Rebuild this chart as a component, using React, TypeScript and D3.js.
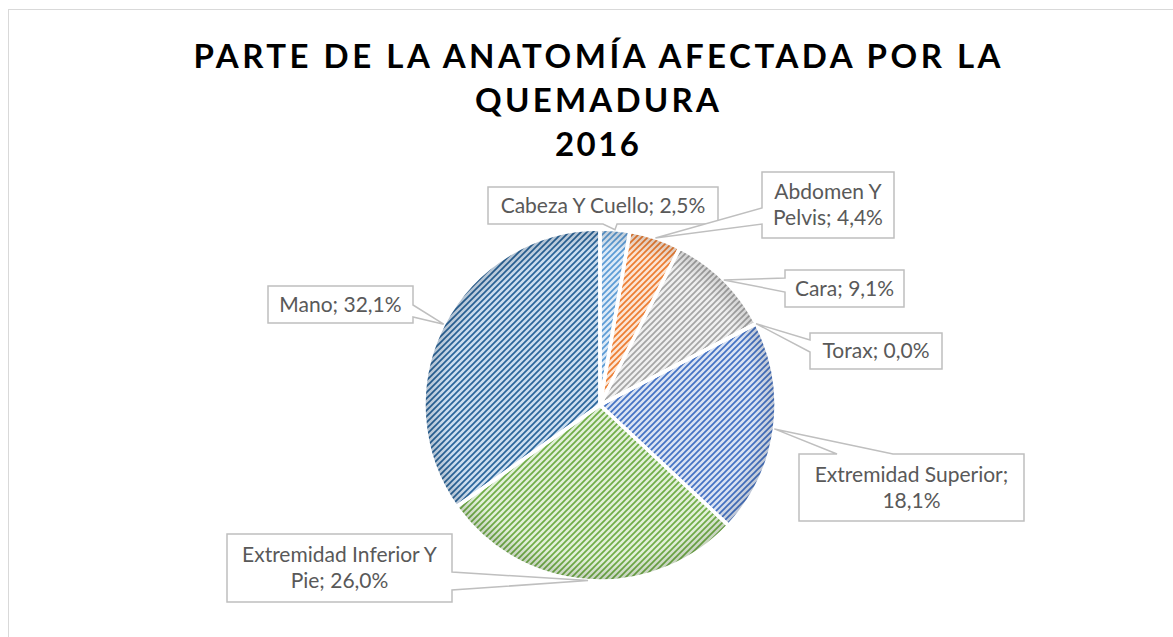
import React from "react";
import * as d3 from "d3";

const categories = [
  "Cabeza Y Cuello",
  "Abdomen Y Pelvis",
  "Cara",
  "Torax",
  "Extremidad Superior",
  "Extremidad Inferior Y Pie",
  "Mano",
];
const values = [2.5, 4.4, 9.1, 0.0, 18.1, 26.0, 32.1];
const labelLines = [
  ["Cabeza Y Cuello; 2,5%"],
  ["Abdomen Y", "Pelvis; 4,4%"],
  ["Cara; 9,1%"],
  ["Torax; 0,0%"],
  ["Extremidad Superior;", "18,1%"],
  ["Extremidad Inferior Y", "Pie; 26,0%"],
  ["Mano; 32,1%"],
];
const titleLines = ["PARTE DE LA ANATOMÍA AFECTADA POR LA", "QUEMADURA", "2016"];

// styles
const fgColors = ["#5B9BD5", "#ED7D31", "#A5A5A5", "#FFC000", "#4472C4", "#70AD47", "#2A659B"];
const bgColors = ["#DCEAF7", "#FCE4D3", "#F0F0F0", "#FFF2CC", "#DAE3F3", "#E2F0D9", "#CCDEF0"];

type Box = { x: number; y: number; w: number; h: number; side: string; b1: number; b2: number };
const boxes: Box[] = [
  { x: 488, y: 187, w: 230, h: 37, side: "bottom", b1: 603, b2: 617 },
  { x: 762, y: 172, w: 132, h: 66, side: "left", b1: 208, b2: 224 },
  { x: 785, y: 270, w: 119, h: 37, side: "left", b1: 278, b2: 292 },
  { x: 810, y: 333, w: 132, h: 36, side: "left", b1: 340, b2: 352 },
  { x: 799, y: 454, w: 225, h: 67, side: "top", b1: 837, b2: 893 },
  { x: 227, y: 534, w: 225, h: 68, side: "right", b1: 572, b2: 590 },
  { x: 268, y: 286, w: 145, h: 37, side: "right", b1: 305, b2: 317 },
];

const W = 1173;
const H = 637;
const cx = 600;
const cy = 405;
const R = 176;

function calloutPath(b: Box, tip: [number, number]) {
  const x0 = b.x, y0 = b.y, x1 = b.x + b.w, y1 = b.y + b.h;
  const lo = Math.min(b.b1, b.b2), hi = Math.max(b.b1, b.b2);
  const pts: [number, number][] = [];
  pts.push([x0, y0]);
  if (b.side === "top") { pts.push([lo, y0], tip, [hi, y0]); }
  pts.push([x1, y0]);
  if (b.side === "right") { pts.push([x1, lo], tip, [x1, hi]); }
  pts.push([x1, y1]);
  if (b.side === "bottom") { pts.push([hi, y1], tip, [lo, y1]); }
  pts.push([x0, y1]);
  if (b.side === "left") { pts.push([x0, hi], tip, [x0, lo]); }
  return "M" + pts.map((p) => p[0] + "," + p[1]).join("L") + "Z";
}

export default function App() {
  const pie = d3.pie<number>().sort(null).value((d) => d)(values);
  const arc = d3.arc<d3.PieArcDatum<number>>().innerRadius(0).outerRadius(R);
  return (
    <svg
      width={W}
      height={H}
      style={{ position: "absolute", left: 0, top: 0, background: "#fff" }}
    >
      <defs>
        {fgColors.map((c, i) => (
          <pattern key={i} id={"pat" + i} width={6} height={6} patternUnits="userSpaceOnUse">
            <rect width={6} height={6} fill={bgColors[i]} />
            <path
              d="M-1,7 L7,-1 M-1,1 L1,-1 M5,7 L7,5"
              stroke={c}
              strokeWidth={1.7}
            />
          </pattern>
        ))}
        <radialGradient id="rim" cx={0} cy={0} r={R} gradientUnits="userSpaceOnUse">
          <stop offset="0.88" stopColor="#000" stopOpacity={0} />
          <stop offset="1" stopColor="#000" stopOpacity={0.14} />
        </radialGradient>
      </defs>
      <rect x={8.5} y={9.5} width={1300} height={800} fill="#fff" stroke="#D9D9D9" />
      <g fontFamily="Lato, 'Open Sans', sans-serif" fontWeight={700} fill="#000" textAnchor="middle">
        <text x={597} y={68} fontSize={33} textLength={807} lengthAdjust="spacing">{titleLines[0]}</text>
        <text x={597} y={112} fontSize={33} textLength={244} lengthAdjust="spacing">{titleLines[1]}</text>
        <text x={597} y={156} fontSize={33} textLength={84} lengthAdjust="spacing">{titleLines[2]}</text>
      </g>
      <g transform={`translate(${cx},${cy})`}>
        {pie.map((d, i) => (
          <path key={categories[i]} d={arc(d) || ""} fill={`url(#pat${i})`} />
        ))}
        {pie.map((d, i) => (
          <path key={"r" + i} d={arc(d) || ""} fill="url(#rim)" />
        ))}
        {pie.map((d, i) => (
          <path key={"s" + i} d={arc(d) || ""} fill="none" stroke="#fff" strokeWidth={3.5} strokeLinejoin="round" />
        ))}
      </g>
      <g>
        {pie.map((d, i) => {
          const mid = (d.startAngle + d.endAngle) / 2;
          const tip: [number, number] = [cx + R * Math.sin(mid), cy - R * Math.cos(mid)];
          const b = boxes[i];
          const lines = labelLines[i];
          const lh = 26;
          const y0 = b.y + b.h / 2 - ((lines.length - 1) * lh) / 2 + 7;
          return (
            <g key={"l" + i}>
              <path d={calloutPath(b, tip)} fill="#fff" stroke="#BFBFBF" strokeWidth={1.5} />
              <text
                x={b.x + b.w / 2}
                textAnchor="middle"
                fontFamily="Lato, 'Open Sans', sans-serif"
                fontSize={21}
                fill="#595959"
              >
                {lines.map((t, k) => (
                  <tspan key={k} x={b.x + b.w / 2} y={y0 + k * lh}>{t}</tspan>
                ))}
              </text>
            </g>
          );
        })}
      </g>
    </svg>
  );
}
